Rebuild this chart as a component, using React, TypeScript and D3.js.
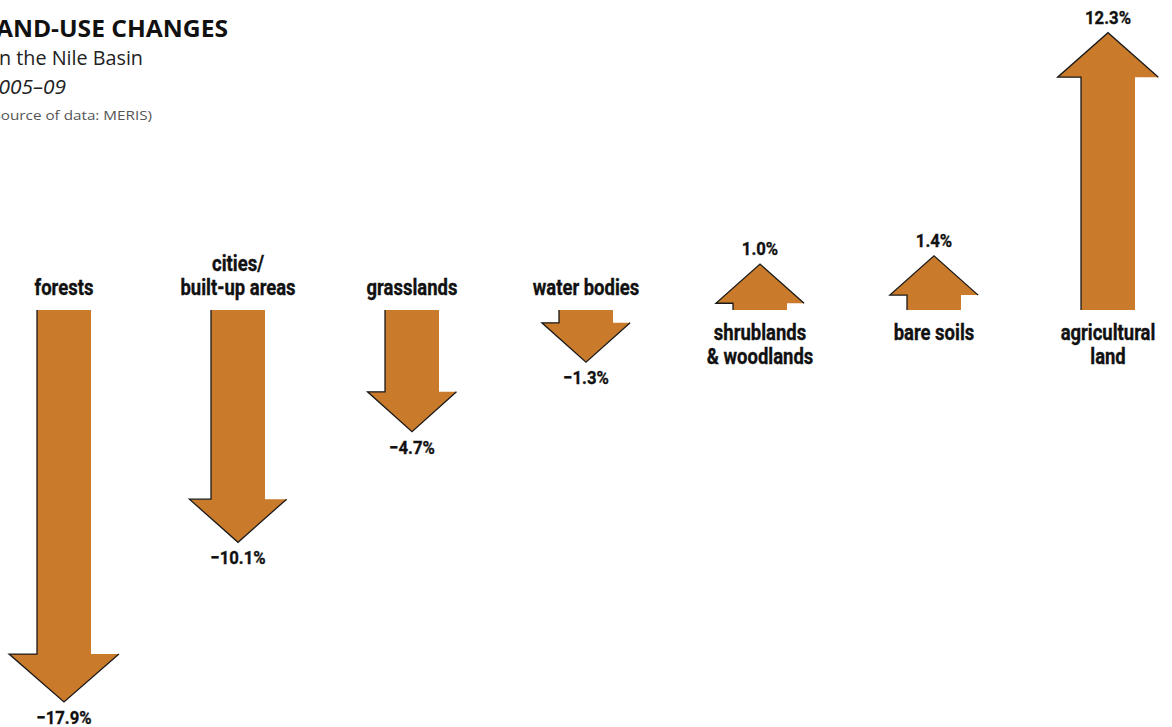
import React, { useEffect, useRef } from 'react';
import * as d3 from 'd3';

// Land-use change, Nile Basin 2005–09 (per cent)
const categories = ['forests', 'cities', 'grasslands', 'water', 'shrublands', 'bare', 'agricultural'];
const labelLines = [
  ['forests'],
  ['cities/', 'built-up areas'],
  ['grasslands'],
  ['water bodies'],
  ['shrublands', '& woodlands'],
  ['bare soils'],
  ['agricultural', 'land'],
];
const values = [-17.9, -10.1, -4.7, -1.3, 1.0, 1.4, 12.3];
const valueLabels = ['\u221217.9%', '\u221210.1%', '\u22124.7%', '\u22121.3%', '1.0%', '1.4%', '12.3%'];

const W = 1172;
const H = 727;
const ORANGE = '#c97a2b';
const FONT = 'Roboto, "DejaVu Sans Condensed", sans-serif';
const TFONT = '"Open Sans", "Noto Sans", sans-serif';

export default function App() {
  const svgRef = useRef<SVGSVGElement>(null);

  useEffect(() => {
    if (!svgRef.current) return;
    const svg = d3.select(svgRef.current);
    svg.selectAll('*').remove();

    const base = 310;
    const shaftHalf = 27;

    const x = d3.scalePoint<string>().domain(categories).range([64, 1108]);
    const len = d3.scaleLinear().domain([0, 17.9]).range([25.5, 392]);
    const headW = d3.scaleLinear().domain([0, 5, 18]).range([88, 89, 110]);
    const headH = d3.scaleLinear().domain([0, 5, 18]).range([39, 40, 48]);

    // condensed-looking text: squeeze horizontally around its anchor
    const label = (tx: number, ty: number, s: string, size: number, sx: number) =>
      svg.append('text')
        .attr('transform', `translate(${tx},${ty}) scale(${sx},1)`)
        .attr('text-anchor', 'middle')
        .attr('font-family', FONT)
        .attr('font-weight', 'bold')
        .attr('font-size', size)
        .attr('fill', '#111')
        .attr('stroke', '#111')
        .attr('stroke-width', 0.35)
        .text(s);

    // title block, clipped at the left edge as in the source
    const title = svg.append('g').attr('font-family', TFONT).attr('text-anchor', 'end');
    title.append('text').attr('x', 228).attr('y', 37).attr('font-size', 23).attr('font-weight', 'bold').attr('fill', '#111')
      .attr('textLength', 246).attr('lengthAdjust', 'spacingAndGlyphs')
      .text('LAND-USE CHANGES');
    title.append('text').attr('x', 143).attr('y', 65).attr('font-size', 20).attr('fill', '#222')
      .attr('textLength', 149).attr('lengthAdjust', 'spacingAndGlyphs')
      .text('in the Nile Basin');
    title.append('text').attr('x', 66).attr('y', 94).attr('font-size', 20).attr('font-style', 'italic').attr('fill', '#222')
      .attr('textLength', 79).attr('lengthAdjust', 'spacingAndGlyphs')
      .text('2005\u201309');
    title.append('text').attr('x', 152).attr('y', 120).attr('font-size', 13).attr('fill', '#555')
      .attr('textLength', 164).attr('lengthAdjust', 'spacingAndGlyphs')
      .text('(Source of data: MERIS)');

    categories.forEach((c, i) => {
      const v = values[i];
      const cx = x(c)!;
      const dir = v < 0 ? 1 : -1; // down = +y
      const a = Math.abs(v);
      const tip = base + dir * len(a);
      const wy = tip - dir * headH(a);
      const hw = headW(a) / 2;

      const shape: [number, number][] = [
        [cx - shaftHalf, base],
        [cx + shaftHalf, base],
        [cx + shaftHalf, wy],
        [cx + hw, wy],
        [cx, tip],
        [cx - hw, wy],
        [cx - shaftHalf, wy],
      ];
      const edge: [number, number][] = [
        [cx - shaftHalf, base],
        [cx - shaftHalf, wy],
        [cx - hw, wy],
        [cx, tip],
        [cx + hw, wy],
      ];

      svg.append('path')
        .attr('d', d3.line()(shape) + 'Z')
        .attr('fill', ORANGE);
      svg.append('path')
        .attr('d', d3.line()(edge)!)
        .attr('fill', 'none')
        .attr('stroke', '#1a1a1a')
        .attr('stroke-width', 1.3)
        .attr('stroke-linejoin', 'miter');

      // value label at the tip
      label(cx, v < 0 ? tip + 22 : tip - 9, valueLabels[i], 19, 0.88);

      // category label on the other side of the baseline
      const lines = labelLines[i];
      const lh = 24;
      lines.forEach((ln, j) => {
        const y = v < 0 ? 295 - (lines.length - 1 - j) * lh : 340 + j * lh;
        label(cx, y, ln, 22, 0.84);
      });
    });
  }, []);

  return (
    <div style={{ position: 'absolute', left: 0, top: 0, width: W, height: H, background: '#fff' }}>
      <svg ref={svgRef} width={W} height={H} viewBox={`0 0 ${W} ${H}`} />
    </div>
  );
}
